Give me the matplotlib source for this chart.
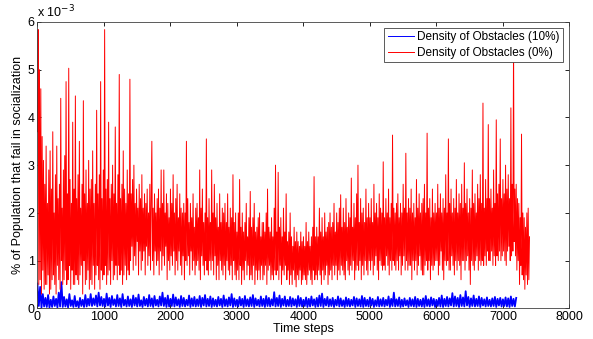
import numpy as np
import matplotlib
matplotlib.use("Agg")
import matplotlib.pyplot as plt

plt.rcParams['font.family'] = ['Liberation Sans', 'DejaVu Sans']

# values in units of 1e-3
# red: one sample every 10 time steps, blue: one every 20
red_step = 10
blue_step = 20

red_obst0 = [
    3.7, 5.84, 0.5, 5.0, 0.6, 4.6, 0.3, 3.6, 0.8, 3.1, 0.4, 2.6, 0.5, 3.4, 0.5, 2.2, 0.7, 2.9, 0.3, 3.3,
    0.4, 2.5, 0.6, 3.7, 0.7, 2.0, 0.5, 2.8, 0.3, 3.4, 0.9, 2.3, 0.6, 2.6, 0.4, 4.4, 1.0, 2.1, 0.5, 2.9,
    0.6, 3.2, 0.8, 4.75, 0.5, 2.4, 0.6, 5.03, 0.9, 2.7, 0.4, 2.2, 0.8, 3.9, 0.5, 2.5, 0.5, 4.45, 0.7, 2.3,
    0.6, 2.8, 0.5, 3.5, 0.7, 2.1, 0.9, 2.6, 0.3, 4.35, 1.0, 2.4, 0.5, 2.9, 0.6, 2.2, 0.8, 3.1, 0.4, 2.5,
    0.6, 2.7, 0.5, 3.3, 0.9, 2.2, 0.4, 2.6, 0.7, 4.15, 0.9, 2.4, 0.6, 2.8, 0.4, 4.75, 0.8, 2.3, 0.6, 2.9,
    0.7, 5.84, 0.9, 2.5, 0.5, 2.7, 0.7, 3.9, 0.8, 2.3, 0.5, 2.6, 1.0, 3.0, 0.6, 2.4, 0.7, 3.8, 0.9, 2.2,
    0.6, 2.8, 0.9, 4.9, 0.7, 2.3, 0.8, 2.6, 0.5, 3.3, 0.7, 2.5, 0.9, 2.2, 0.6, 2.9, 0.8, 2.4, 0.7, 4.8,
    1.0, 2.4, 1.3, 2.7, 0.8, 3.0, 1.1, 2.2, 0.9, 2.5, 1.4, 2.1, 0.7, 2.6, 1.2, 2.3, 0.8, 2.8, 1.0, 2.1,
    1.2, 2.4, 0.7, 2.2, 1.3, 2.5, 0.9, 2.0, 1.1, 2.6, 0.8, 2.3, 3.5, 1.0, 2.1, 0.7, 2.4, 1.2, 2.0, 0.9,
    2.3, 1.0, 2.5, 0.7, 2.1, 1.2, 2.9, 0.8, 2.2, 1.1, 2.9, 0.9, 2.0, 1.3, 2.4, 0.6, 2.2, 1.0, 1.9, 0.8,
    2.5, 1.1, 2.2, 0.9, 2.8, 1.2, 2.0, 0.7, 2.3, 1.0, 2.6, 0.8, 1.9, 1.2, 2.4, 0.9, 2.1, 0.7, 2.0, 1.1,
    2.2, 0.6, 2.0, 1.0, 3.5, 0.9, 2.3, 1.1, 1.8, 0.7, 2.2, 1.2, 1.9, 0.8, 2.4, 1.0, 1.7, 0.7, 2.1, 0.9,
    2.2, 1.0, 1.9, 0.8, 2.9, 0.6, 2.1, 1.1, 2.5, 0.9, 1.8, 0.7, 2.0, 1.0, 3.55, 0.8, 1.9, 0.7, 2.3, 1.0,
    1.8, 0.8, 2.9, 1.0, 2.0, 0.7, 2.6, 1.1, 1.9, 0.6, 2.2, 0.9, 1.7, 0.6, 2.4, 1.0, 1.8, 0.8, 2.1, 0.7,
    2.0, 0.9, 2.2, 0.6, 1.8, 1.0, 2.4, 0.8, 1.7, 0.7, 2.1, 0.9, 1.9, 0.6, 2.8, 1.0, 1.8, 0.7, 2.0, 0.6,
    1.6, 0.8, 2.0, 0.6, 2.7, 0.9, 1.7, 0.5, 2.0, 0.8, 1.6, 0.6, 1.8, 1.0, 2.2, 0.7, 1.5, 0.9, 1.9, 0.6,
    2.45, 0.7, 1.7, 0.6, 1.9, 0.9, 2.2, 0.5, 1.6, 0.8, 1.7, 0.6, 1.9, 0.8, 2.0, 0.6, 1.5, 0.9, 1.8, 0.6,
    1.8, 0.7, 1.6, 0.9, 2.0, 0.5, 2.5, 0.8, 1.7, 0.9, 1.6, 0.6, 1.9, 0.7, 1.5, 0.6, 2.1, 0.8, 3.0, 0.7,
    1.6, 0.8, 2.85, 0.6, 1.7, 0.9, 1.9, 0.5, 1.5, 0.8, 2.1, 0.7, 1.6, 0.9, 2.4, 0.6, 1.4, 0.8, 1.6, 0.5,
    2.0, 0.7, 1.5, 0.5, 1.3, 0.8, 1.7, 0.6, 1.4, 0.45, 1.6, 0.7, 1.4, 0.6, 1.3, 0.8, 1.6, 0.5, 1.4, 0.6,
    1.5, 0.7, 1.3, 0.6, 1.8, 0.5, 1.4, 0.7, 1.6, 0.8, 1.3, 0.6, 1.5, 0.5, 1.7, 0.8, 2.76, 0.6, 1.5, 0.7,
    1.7, 0.6, 1.5, 0.8, 2.1, 0.7, 1.6, 0.5, 1.9, 0.8, 1.5, 0.6, 2.0, 0.7, 1.6, 0.9, 1.7, 0.5, 1.8, 0.7,
    2.0, 0.8, 1.7, 0.6, 1.8, 0.9, 2.2, 0.7, 1.6, 0.9, 2.0, 0.6, 1.8, 0.8, 2.1, 0.7, 2.38, 0.9, 1.7, 0.8,
    2.1, 0.7, 1.8, 0.6, 2.3, 1.0, 1.7, 0.8, 2.0, 0.7, 1.9, 0.9, 2.73, 0.8, 1.7, 1.0, 2.2, 0.6, 1.9, 0.8,
    2.4, 0.9, 3.0, 0.8, 1.8, 1.0, 2.3, 0.6, 2.0, 0.9, 2.1, 0.7, 1.8, 1.0, 2.5, 0.8, 1.9, 0.7, 2.2, 1.0,
    1.9, 0.8, 2.3, 1.0, 1.8, 0.7, 2.6, 0.9, 2.0, 1.1, 2.2, 0.8, 1.9, 0.6, 2.4, 1.0, 2.1, 0.9, 2.0, 0.8,
    3.07, 0.9, 1.9, 0.8, 2.3, 1.1, 2.0, 0.9, 2.5, 0.7, 1.9, 1.0, 2.2, 0.8, 3.63, 1.0, 2.1, 0.9, 2.0, 0.8,
    2.2, 1.0, 2.4, 0.8, 1.9, 1.1, 2.2, 0.7, 2.0, 0.9, 2.6, 1.1, 2.1, 0.8, 3.25, 1.0, 2.0, 0.8, 2.3, 0.9,
    2.1, 0.9, 2.5, 0.6, 2.0, 1.0, 2.2, 0.8, 1.9, 1.0, 2.7, 0.7, 2.1, 0.9, 2.4, 1.1, 2.0, 0.8, 2.2, 0.7,
    2.3, 0.7, 2.6, 0.9, 2.0, 1.0, 3.67, 0.8, 2.1, 1.0, 2.3, 0.6, 1.9, 0.9, 2.5, 0.8, 2.0, 0.9, 2.2, 1.0,
    2.0, 1.0, 2.6, 0.7, 2.1, 0.9, 2.4, 1.2, 2.0, 0.8, 2.3, 0.6, 2.1, 1.0, 2.8, 0.9, 2.0, 1.0, 3.55, 0.8,
    2.2, 0.8, 2.5, 1.1, 2.0, 0.9, 2.3, 0.7, 2.1, 1.0, 2.7, 0.8, 2.0, 1.0, 2.4, 0.9, 2.2, 0.6, 2.6, 1.0,
    2.1, 1.0, 3.05, 0.8, 2.2, 1.0, 2.5, 1.1, 2.0, 0.8, 2.3, 0.5, 2.1, 1.0, 2.9, 0.9, 2.2, 0.8, 2.4, 1.0,
    2.0, 1.1, 2.6, 0.8, 2.3, 1.0, 2.8, 0.9, 2.2, 1.0, 4.3, 0.9, 2.1, 1.1, 2.7, 0.9, 2.3, 1.2, 3.85, 1.0,
    2.3, 1.0, 2.5, 1.2, 2.1, 0.9, 2.9, 1.1, 2.2, 0.9, 3.95, 1.1, 2.4, 1.0, 2.6, 1.2, 3.55, 1.0, 2.3, 1.1,
    2.7, 1.2, 2.4, 1.0, 3.0, 0.9, 2.5, 1.2, 2.8, 1.3, 2.3, 1.0, 4.2, 1.1, 2.6, 1.2, 5.6, 1.4, 2.5, 1.1,
    2.6, 0.8, 2.3, 1.0, 2.2, 0.5, 1.9, 0.9, 3.65, 0.7, 2.0, 0.6, 1.9, 0.4, 1.7, 0.7, 2.0, 0.5, 2.1, 0.6,
    1.5,
]

blue_obst10 = [
    0.52, 0.05, 0.45, 0.02, 0.30, 0.04, 0.22, 0.03, 0.28, 0.02,
    0.18, 0.03, 0.25, 0.05, 0.20, 0.02, 0.33, 0.04, 0.55, 0.03,
    0.24, 0.04, 0.19, 0.02, 0.30, 0.05, 0.17, 0.03, 0.26, 0.04,
    0.15, 0.02, 0.22, 0.05, 0.18, 0.03, 0.28, 0.04, 0.20, 0.06,
    0.30, 0.05, 0.21, 0.07, 0.27, 0.04, 0.33, 0.06, 0.24, 0.05,
    0.20, 0.04, 0.31, 0.06, 0.22, 0.03, 0.26, 0.07, 0.19, 0.04,
    0.28, 0.05, 0.21, 0.03, 0.30, 0.06, 0.18, 0.04, 0.25, 0.05,
    0.19, 0.03, 0.27, 0.06, 0.22, 0.04, 0.29, 0.05, 0.17, 0.03,
    0.24, 0.06, 0.20, 0.04, 0.28, 0.05, 0.21, 0.03, 0.26, 0.06,
    0.18, 0.04, 0.25, 0.06, 0.33, 0.05, 0.22, 0.03, 0.27, 0.04,
    0.20, 0.05, 0.29, 0.04, 0.23, 0.06, 0.19, 0.03, 0.26, 0.05,
    0.22, 0.04, 0.18, 0.06, 0.27, 0.03, 0.21, 0.05, 0.24, 0.04,
    0.19, 0.05, 0.26, 0.03, 0.22, 0.06, 0.28, 0.04, 0.20, 0.05,
    0.25, 0.03, 0.21, 0.05, 0.18, 0.04, 0.24, 0.06, 0.20, 0.03,
    0.27, 0.05, 0.19, 0.04, 0.23, 0.06, 0.30, 0.03, 0.21, 0.05,
    0.18, 0.04, 0.24, 0.06, 0.20, 0.03, 0.26, 0.05, 0.19, 0.04,
    0.23, 0.05, 0.28, 0.03, 0.21, 0.06, 0.18, 0.04, 0.25, 0.05,
    0.20, 0.03, 0.26, 0.05, 0.22, 0.04, 0.19, 0.06, 0.34, 0.04,
    0.22, 0.05, 0.27, 0.03, 0.20, 0.06, 0.25, 0.04, 0.18, 0.05,
    0.24, 0.04, 0.21, 0.06, 0.19, 0.03, 0.26, 0.05, 0.22, 0.04,
    0.18, 0.05, 0.23, 0.03, 0.20, 0.04, 0.25, 0.06, 0.19, 0.03,
    0.22, 0.04, 0.27, 0.05, 0.31, 0.03, 0.20, 0.06, 0.24, 0.04,
    0.19, 0.05, 0.22, 0.03, 0.18, 0.06, 0.25, 0.04, 0.21, 0.05,
    0.17, 0.03, 0.23, 0.05, 0.20, 0.04, 0.18, 0.06, 0.24, 0.03,
    0.21, 0.05, 0.19, 0.04, 0.26, 0.03, 0.22, 0.05, 0.18, 0.04,
    0.23, 0.06, 0.20, 0.03, 0.17, 0.05, 0.24, 0.04, 0.19, 0.05,
    0.22, 0.04, 0.18, 0.06, 0.25, 0.03, 0.20, 0.05, 0.33, 0.04,
    0.19, 0.05, 0.23, 0.03, 0.18, 0.04, 0.21, 0.06, 0.17, 0.03,
    0.22, 0.05, 0.19, 0.04, 0.24, 0.03, 0.20, 0.05, 0.18, 0.04,
    0.21, 0.03, 0.26, 0.05, 0.19, 0.04, 0.23, 0.06, 0.20, 0.03,
    0.18, 0.05, 0.22, 0.04, 0.27, 0.03, 0.20, 0.05, 0.24, 0.04,
    0.21, 0.06, 0.32, 0.04, 0.25, 0.05, 0.22, 0.03, 0.28, 0.05,
    0.23, 0.04, 0.36, 0.06, 0.24, 0.03, 0.21, 0.05, 0.27, 0.04,
    0.20, 0.05, 0.25, 0.03, 0.22, 0.06, 0.19, 0.04, 0.23, 0.05,
    0.18, 0.04, 0.21, 0.05, 0.24, 0.03, 0.20, 0.06, 0.22, 0.04,
    0.19, 0.05, 0.23, 0.04, 0.21, 0.03, 0.25, 0.05, 0.20, 0.04,
    0.22,
]

t_red = np.arange(len(red_obst0)) * red_step
t_blue = np.arange(len(blue_obst10)) * blue_step

fig = plt.figure(figsize=(5.93, 3.39), dpi=100)
ax = fig.add_axes([0.0632, 0.0903, 0.897, 0.845])

ax.plot(t_blue, blue_obst10, color='#0000ff', lw=1.3, label='Density of Obstacles (10%)')
ax.plot(t_red, red_obst0, color='#ff0000', lw=0.7, label='Density of Obstacles (0%)')

ax.set_xlim(0, 8000)
ax.set_ylim(0, 6)
ax.set_xticks(range(0, 8001, 1000))
ax.set_yticks(range(0, 7))
ax.tick_params(direction='in', top=True, right=True, labelsize=9, length=3, width=0.6, pad=2)
for s in ax.spines.values():
    s.set_linewidth(0.6)
    s.set_color('#404040')

ax.set_xlabel('Time steps', fontsize=9, labelpad=0)
ax.set_ylabel('% of Population that fail in socialization', fontsize=9, labelpad=3)
ax.text(0.0, 1.005, r'x 10$^{-3}$', transform=ax.transAxes, fontsize=9, ha='left', va='bottom')

leg = ax.legend(loc='upper right', fontsize=8.5, fancybox=False, framealpha=1,
                edgecolor='#404040', handlelength=2.2, borderpad=0.3,
                labelspacing=0.3, handletextpad=0.3, borderaxespad=0.5)
leg.get_frame().set_linewidth(0.6)
for line in leg.get_lines():
    line.set_linewidth(0.7)

fig.savefig('out.png', dpi=100)
